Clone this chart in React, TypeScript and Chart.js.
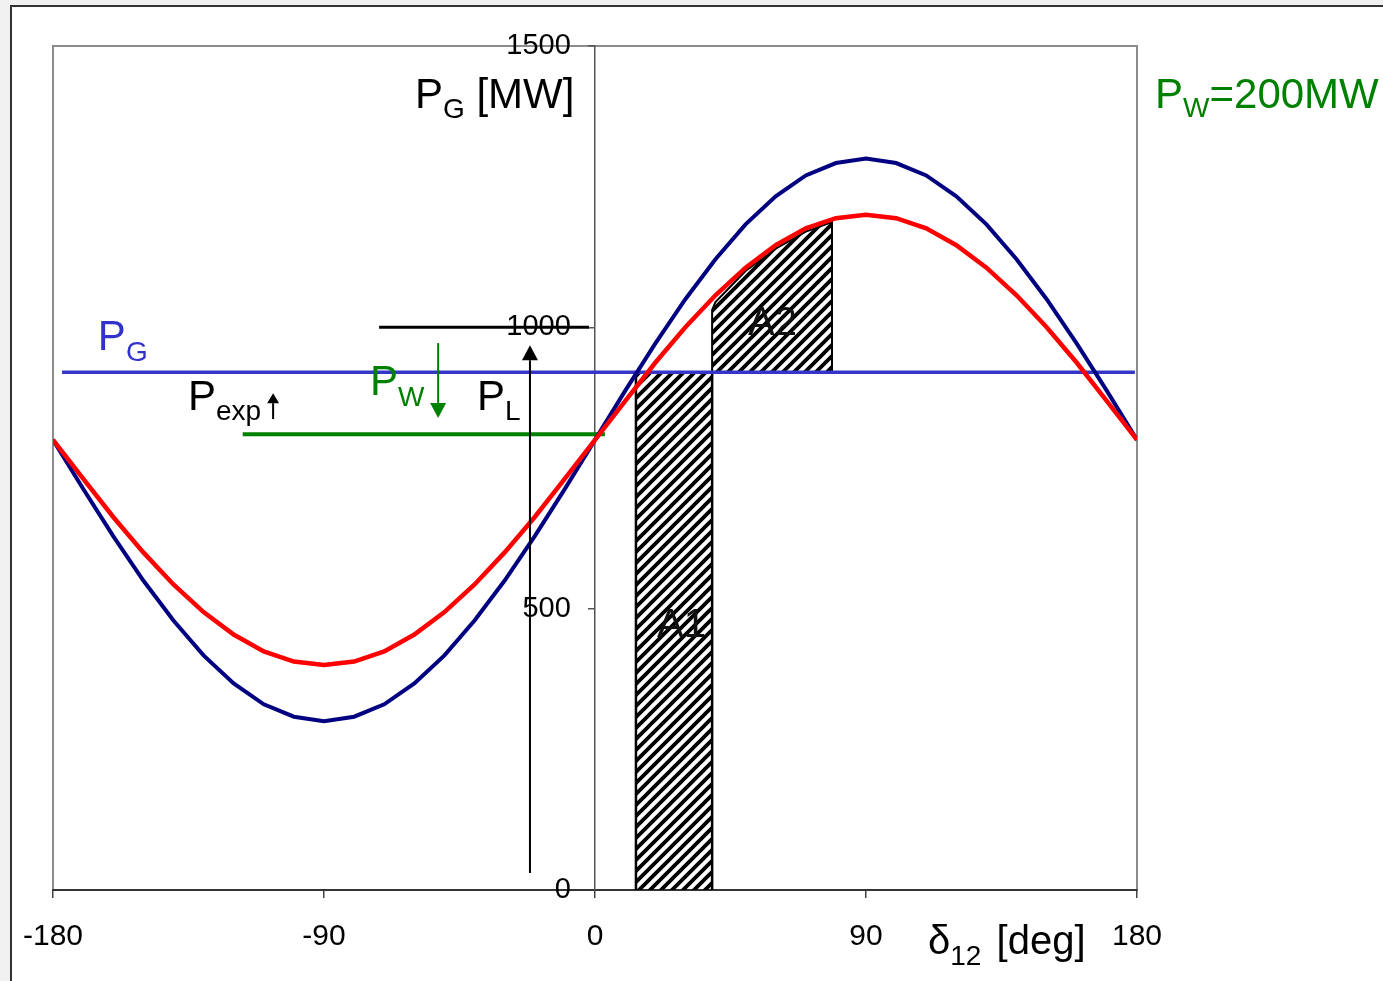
import React, { useEffect, useRef } from "react";
import { Chart, registerables } from "chart.js";

Chart.register(...registerables);

// load angle delta12 [deg]
const deltaDeg = [
  -180, -170, -160, -150, -140, -130, -120, -110, -100, -90, -80, -70, -60, -50, -40, -30, -20, -10,
  0, 10, 20, 30, 40, 50, 60, 70, 80, 90, 100, 110, 120, 130, 140, 150, 160, 170, 180,
];
// navy curve (generator power, higher amplitude)
const curveNavy = [
  800, 713, 629, 550, 479, 417, 367, 330, 308, 300, 308, 330, 367, 417, 479, 550, 629, 713,
  800, 887, 971, 1050, 1121, 1183, 1233, 1270, 1292, 1300, 1292, 1270, 1233, 1183, 1121, 1050, 971, 887, 800,
];
// red curve (with wind power)
const curveRed = [
  800, 731, 663, 600, 543, 494, 454, 424, 406, 400, 406, 424, 454, 494, 543, 600, 663, 731,
  800, 869, 937, 1000, 1057, 1106, 1146, 1176, 1194, 1200, 1194, 1176, 1146, 1106, 1057, 1000, 937, 869, 800,
];

// horizontal levels
const pgLevel = 920;
const pgLineX = [-177, 179.3];
const pwLevel = 810;
const pwLineX = [-117, 3.3];
const plLevel = 1000;
const plLineX = [-71.7, -2];

// hatched areas
const a1X = [13.6, 38.9];
const a1Top = 920;
const a2X = [38.9, 40, 50, 60, 70, 78.7];
const a2Top = [1031, 1045, 1100, 1140, 1170, 1187];

// arrows: x, from y, to y
const arrowX = [-21.6, -52.1, -106.9];
const arrowFrom = [30, 972, 837];
const arrowTo = [968, 839, 883];
const arrowColor = ["#000000", "#008000", "#000000"];

const xTicks = [-180, -90, 0, 90, 180];
const yTicks = [0, 500, 1000, 1500];

const FONT = '"Liberation Sans", Arial, Helvetica, sans-serif';

type Part = { t: string; size: number; dy: number; dx?: number };
type Label = { x: number; y: number; color: string; parts: Part[] };

const labels: Label[] = [
  { x: -59.8, y: 1389.7, color: "#000", parts: [{ t: "P", size: 42, dy: 0 }, { t: "G", size: 28, dy: 10 }, { t: " [MW]", size: 42, dy: 0 }] },
  { x: 186, y: 1389.7, color: "#008000", parts: [{ t: "P", size: 42, dy: 0 }, { t: "W", size: 28, dy: 9 }, { t: "=200MW", size: 42, dy: 0 }] },
  { x: -165.1, y: 959.7, color: "#3333cc", parts: [{ t: "P", size: 42, dy: 0 }, { t: "G", size: 28, dy: 11 }] },
  { x: -135.2, y: 853, color: "#000", parts: [{ t: "P", size: 42, dy: 0 }, { t: "exp", size: 28, dy: 10 }] },
  { x: -74.7, y: 879.7, color: "#008000", parts: [{ t: "P", size: 42, dy: 0 }, { t: "W", size: 28, dy: 11 }] },
  { x: -39.2, y: 853, color: "#000", parts: [{ t: "P", size: 42, dy: 0 }, { t: "L", size: 28, dy: 10 }] },
  { x: 50.8, y: 986.3, color: "#111", parts: [{ t: "A2", size: 40, dy: 0 }] },
  { x: 20.6, y: 449.6, color: "#111", parts: [{ t: "A1", size: 40, dy: 0 }] },
  { x: 110.6, y: -113.7, color: "#000", parts: [{ t: "δ", size: 40, dy: 0 }, { t: "12", size: 28, dy: 11 }, { t: " [deg]", size: 40, dy: 0, dx: 4 }] },
];

function makeHatch(): CanvasPattern | string {
  const c = document.createElement("canvas");
  c.width = 11;
  c.height = 11;
  const g = c.getContext("2d");
  if (!g) return "#888";
  g.strokeStyle = "#000";
  g.lineWidth = 3.8;
  g.beginPath();
  g.moveTo(-2, 13);
  g.lineTo(13, -2);
  g.moveTo(-7.5, 7.5);
  g.lineTo(7.5, -7.5);
  g.moveTo(3.5, 18.5);
  g.lineTo(18.5, 3.5);
  g.stroke();
  return g.createPattern(c, "repeat") || "#888";
}

const decorPlugin = {
  id: "decor",
  beforeDraw(chart: any) {
    const { ctx, chartArea: a } = chart;
    ctx.save();
    ctx.strokeStyle = "#8c8c8c";
    ctx.lineWidth = 2;
    ctx.strokeRect(a.left, a.top, a.right - a.left, a.bottom - a.top);
    ctx.restore();
  },
  afterDatasetsDraw(chart: any) {
    const { ctx, scales } = chart;
    const sx = scales.x;
    const sy = scales.y;
    ctx.save();
    arrowX.forEach((xv, i) => {
      const px = sx.getPixelForValue(xv);
      const y0 = sy.getPixelForValue(arrowFrom[i]);
      const y1 = sy.getPixelForValue(arrowTo[i]);
      const dir = y1 < y0 ? -1 : 1;
      const big = Math.abs(y1 - y0) > 60;
      const hl = big ? 15 : 10;
      const hw = big ? 8 : 6;
      ctx.strokeStyle = arrowColor[i];
      ctx.fillStyle = arrowColor[i];
      ctx.lineWidth = 2;
      ctx.beginPath();
      ctx.moveTo(px, y0);
      ctx.lineTo(px, y1 - dir * hl);
      ctx.stroke();
      ctx.beginPath();
      ctx.moveTo(px, y1);
      ctx.lineTo(px - hw, y1 - dir * hl);
      ctx.lineTo(px + hw, y1 - dir * hl);
      ctx.closePath();
      ctx.fill();
    });
    ctx.restore();
  },
  afterDraw(chart: any) {
    const { ctx, scales } = chart;
    const sx = scales.x;
    const sy = scales.y;
    ctx.save();
    ctx.textBaseline = "alphabetic";
    ctx.textAlign = "left";
    labels.forEach((lb) => {
      let px = sx.getPixelForValue(lb.x);
      const py = sy.getPixelForValue(lb.y);
      ctx.fillStyle = lb.color;
      lb.parts.forEach((p) => {
        px += p.dx || 0;
        ctx.font = `${p.size}px ${FONT}`;
        ctx.fillText(p.t, px, py + p.dy);
        px += ctx.measureText(p.t).width;
      });
    });
    ctx.restore();
  },
};

export default function App() {
  const ref = useRef<HTMLCanvasElement>(null);

  useEffect(() => {
    const canvas = ref.current;
    if (!canvas) return;
    const hatch = makeHatch();
    const pts = (xs: number[], ys: number[]) => xs.map((x, i) => ({ x, y: ys[i] }));

    const a2Data = [
      { x: a2X[0], y: pgLevel },
      ...pts(a2X, a2Top),
      { x: a2X[a2X.length - 1], y: pgLevel },
    ];
    const a1Data = [
      { x: a1X[0], y: 0 },
      { x: a1X[0], y: a1Top },
      { x: a1X[1], y: a1Top },
      { x: a1X[1], y: 0 },
    ];

    const chart = new Chart(canvas, {
      type: "line",
      data: {
        datasets: [
          { label: "red", data: pts(deltaDeg, curveRed), borderColor: "#ff0000", borderWidth: 4.5, pointRadius: 0, tension: 0, fill: false },
          { label: "navy", data: pts(deltaDeg, curveNavy), borderColor: "#000080", borderWidth: 4, pointRadius: 0, tension: 0, fill: false },
          { label: "PG", data: pts(pgLineX, [pgLevel, pgLevel]), borderColor: "#3535c8", borderWidth: 3.5, pointRadius: 0, fill: false },
          { label: "PW", data: pts(pwLineX, [pwLevel, pwLevel]), borderColor: "#008000", borderWidth: 4, pointRadius: 0, fill: false },
          { label: "PL", data: pts(plLineX, [plLevel, plLevel]), borderColor: "#000000", borderWidth: 3, pointRadius: 0, fill: false },
          { label: "A2", data: a2Data, borderColor: "#000000", borderWidth: 2, pointRadius: 0, backgroundColor: hatch as any, fill: { value: pgLevel } as any },
          { label: "A1", data: a1Data, borderColor: "#000000", borderWidth: 2.5, pointRadius: 0, backgroundColor: hatch as any, fill: "origin" },
        ] as any,
      },
      options: {
        responsive: false,
        maintainAspectRatio: false,
        animation: false,
        devicePixelRatio: 1,
        layout: { padding: { left: 53, right: 246, top: 46, bottom: 0 } },
        plugins: { legend: { display: false }, tooltip: { enabled: false } },
        events: [],
        scales: {
          x: {
            type: "linear",
            min: -180,
            max: 180,
            afterBuildTicks: (s: any) => {
              s.ticks = xTicks.map((v) => ({ value: v }));
            },
            afterFit: (s: any) => {
              s.height = 91;
            },
            grid: { drawOnChartArea: false, drawTicks: true, tickLength: 8, tickColor: "#444", lineWidth: 1.5 },
            border: { display: true, color: "#333", width: 2 },
            ticks: { font: { family: FONT, size: 30 }, color: "#000", padding: 21, maxRotation: 0, autoSkip: false, callback: (v: any) => String(v) },
          },
          y: {
            type: "linear",
            position: { x: 0 } as any,
            min: 0,
            max: 1500,
            afterBuildTicks: (s: any) => {
              s.ticks = yTicks.map((v) => ({ value: v }));
            },
            grid: { drawOnChartArea: false, drawTicks: true, tickLength: 6, tickColor: "#555", lineWidth: 1.5 },
            border: { display: true, color: "#555", width: 1.5 },
            ticks: {
              font: { family: FONT, size: 29 },
              color: "#000",
              padding: 20,
              autoSkip: false,
              // label sits left of the centred axis: pad with a figure space + space
              callback: (v: any) => String(v) + "\u2007 ",
            },
          },
        },
      } as any,
      plugins: [decorPlugin],
    });
    return () => chart.destroy();
  }, []);

  return (
    <div style={{ position: "fixed", left: 0, top: 0, width: 1383, height: 981, background: "#f0f0f0", overflow: "hidden" }}>
      <div style={{ position: "absolute", left: 10, top: 5, width: 1420, height: 1020, background: "#ffffff", border: "2px solid #333", boxSizing: "border-box" }} />
      <canvas ref={ref} width={1383} height={981} style={{ position: "absolute", left: 0, top: 0, width: 1383, height: 981 }} />
    </div>
  );
}
